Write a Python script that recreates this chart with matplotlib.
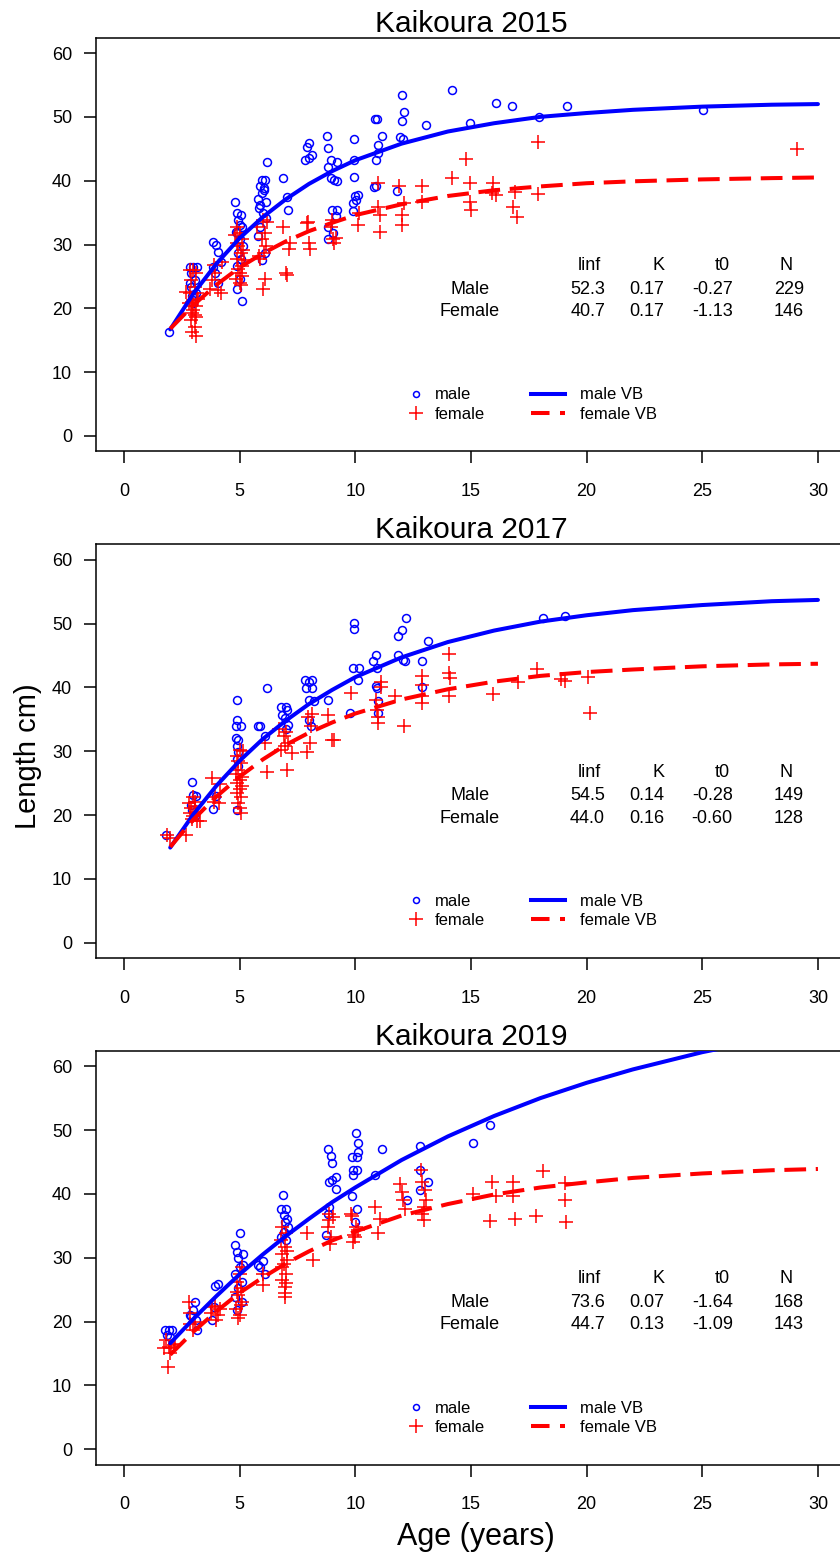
import numpy as np
import matplotlib
matplotlib.use("Agg")
import matplotlib.pyplot as plt
from matplotlib.lines import Line2D

plt.rcParams['font.family'] = ['Liberation Sans', 'DejaVu Sans']

# ---------------- data ----------------
titles = ["Kaikoura 2015", "Kaikoura 2017", "Kaikoura 2019"]

# (age, length) observations
male_2015 = [
    (1.96, 16.3),
    (2.85, 26.5), (3.0, 26.5), (3.15, 26.5), (2.9, 25.5), (3.05, 24.4), (2.9, 23.4), (3.1, 22.4),
    (2.95, 21.9), (2.85, 24.0), (3.0, 20.8),
    (3.85, 30.4), (4.0, 29.9), (4.07, 28.9), (3.85, 26.5), (3.95, 25.5), (4.05, 24.0), (4.2, 27.3),
    (4.8, 36.6), (4.9, 34.9), (5.05, 34.6), (4.95, 33.8), (5.1, 32.8), (4.9, 31.8), (5.0, 30.8),
    (5.15, 29.7), (4.95, 28.7), (5.05, 27.7), (4.9, 26.7), (5.0, 24.6), (4.9, 23.1), (5.1, 21.2),
    (5.0, 33.0), (4.85, 32.0),
    (6.17, 43.0), (5.95, 40.1), (6.1, 40.1), (5.9, 39.1), (6.05, 38.9), (5.95, 38.0), (5.8, 37.2),
    (6.15, 36.7), (5.85, 35.7), (6.0, 34.9), (6.15, 34.1), (5.9, 32.8), (5.8, 31.3), (6.1, 28.7),
    (5.95, 27.5), (6.05, 38.5), (5.9, 36.2),
    (6.86, 40.4), (7.1, 35.4), (7.04, 37.5),
    (7.83, 43.2), (8.0, 43.6), (8.13, 44.0), (8.0, 45.9), (7.9, 45.3),
    (8.76, 47.0), (8.8, 45.1), (8.95, 43.2), (8.8, 42.2), (9.1, 40.1), (8.95, 40.4), (9.2, 40.0),
    (9.0, 35.4), (9.2, 35.4), (9.15, 34.4), (8.8, 32.8), (9.05, 31.8), (8.8, 30.9), (9.2, 43.0),
    (9.96, 46.5), (9.93, 43.3), (9.93, 40.6), (10.0, 37.6), (10.05, 37.0), (9.9, 36.5), (10.1, 37.8),
    (9.9, 35.2),
    (10.85, 49.6), (10.95, 49.6), (11.14, 47.0), (10.98, 45.6), (10.98, 44.4), (10.9, 43.3),
    (10.8, 39.0), (10.9, 39.2),
    (12.0, 53.4), (12.12, 50.8), (12.0, 49.3), (11.93, 46.8), (12.05, 46.5), (11.79, 38.4),
    (13.06, 48.8), (14.17, 54.2), (14.96, 49.1), (16.07, 52.2), (16.76, 51.7), (17.96, 50.0),
    (19.14, 51.7), (25.02, 51.1),
]
female_2015 = [
    (2.85, 26.0), (3.0, 26.0), (3.1, 25.5), (2.9, 24.4), (3.05, 23.4), (2.85, 22.4), (3.15, 22.4),
    (3.0, 21.3), (2.9, 20.3), (3.1, 20.3), (3.0, 19.8), (2.95, 19.2), (3.1, 18.7), (2.9, 18.2),
    (3.05, 17.1), (2.95, 16.3), (3.1, 15.6), (2.7, 22.5), (3.2, 21.5), (2.95, 21.0), (3.05, 19.0),
    (2.8, 20.8),
    (3.9, 26.8), (3.8, 24.4), (4.05, 22.9), (3.7, 23.1), (4.2, 22.4), (3.95, 25.5), (4.25, 27.3),
    (4.8, 31.5), (4.9, 32.8), (5.0, 31.8), (5.1, 30.8), (4.95, 29.7), (5.05, 28.7), (4.9, 27.7),
    (5.1, 26.7), (5.0, 25.6), (4.85, 24.6), (5.05, 23.6), (5.15, 29.2), (4.95, 26.2), (5.0, 24.0),
    (5.1, 25.0), (4.9, 30.3), (5.2, 27.5),
    (5.75, 32.8), (6.0, 33.8), (6.1, 31.8), (5.95, 30.8), (6.15, 29.7), (6.05, 28.7), (5.9, 27.7),
    (6.1, 24.6), (6.0, 23.0), (6.2, 33.5), (5.85, 28.2),
    (6.89, 32.8), (7.18, 30.3), (7.15, 29.3), (7.0, 25.6), (7.05, 25.2),
    (7.9, 33.3), (8.0, 30.3), (8.04, 29.3), (7.95, 33.5),
    (9.0, 33.8), (8.95, 32.8), (9.1, 30.3), (9.05, 30.8), (9.15, 31.0),
    (10.1, 33.1), (10.15, 35.0),
    (11.0, 39.6), (11.07, 34.6), (11.05, 32.0), (11.0, 35.9),
    (11.9, 39.1), (12.0, 34.6), (12.0, 33.1), (12.1, 36.5),
    (12.9, 39.1), (12.9, 36.7),
    (14.17, 40.4), (14.8, 43.4), (14.96, 39.7), (14.96, 36.7), (15.0, 35.4),
    (15.95, 39.6), (15.9, 38.1), (16.1, 37.8),
    (16.8, 35.9), (17.0, 34.3), (16.9, 38.2), (17.9, 37.9), (17.9, 46.1),
    (29.08, 45.0),
]
male_2017 = [
    (1.80, 16.9),
    (2.93, 25.1), (3.0, 23.2), (3.1, 23.0), (2.9, 21.6), (2.95, 20.8), (3.07, 19.8),
    (3.86, 20.9), (3.98, 23.0),
    (4.87, 38.1), (4.87, 34.9), (4.85, 33.9), (5.05, 33.9), (4.85, 32.1), (4.95, 31.8), (4.9, 30.8),
    (4.92, 29.8), (4.87, 28.7), (4.95, 27.7), (4.87, 20.8),
    (6.17, 39.9), (5.8, 34.0), (5.9, 34.0), (6.1, 32.4),
    (6.8, 37.0), (7.0, 37.0), (7.05, 36.5), (6.85, 35.7), (6.95, 35.2), (7.1, 34.1), (7.0, 33.4),
    (7.83, 41.2), (8.0, 40.9), (8.15, 41.2), (7.85, 39.9), (8.15, 39.9), (8.0, 38.1), (8.2, 37.8),
    (8.0, 34.9), (8.1, 33.9),
    (8.83, 38.1), (9.77, 36.0),
    (9.94, 50.1), (9.94, 49.1), (9.9, 43.0), (10.15, 43.0), (10.1, 41.2),
    (10.88, 45.1), (10.75, 44.1), (10.95, 43.0), (10.88, 40.2), (10.95, 39.9), (11.0, 37.8),
    (10.98, 36.0),
    (11.85, 48.0), (12.0, 49.0), (12.2, 50.9), (11.85, 45.1), (12.07, 44.3), (12.15, 44.1),
    (13.16, 47.2), (12.9, 44.2), (12.9, 40.1),
    (18.13, 50.9), (19.07, 51.2),
]
female_2017 = [
    (1.85, 16.9), (2.0, 16.4), (2.7, 16.9),
    (2.8, 21.9), (3.0, 22.9), (2.85, 20.3), (3.05, 21.4), (2.95, 19.3), (3.15, 19.0), (3.3, 19.0),
    (3.0, 19.8), (3.05, 22.0), (2.9, 21.1), (3.1, 20.5),
    (3.8, 25.8), (4.15, 24.8), (3.95, 22.9), (3.9, 22.1), (4.1, 21.9),
    (5.0, 30.2), (4.9, 29.2), (5.05, 28.1), (4.95, 27.1), (5.1, 26.0), (4.9, 25.0), (5.0, 24.0),
    (5.05, 22.9), (4.95, 21.9), (5.0, 21.1), (5.05, 20.3), (5.15, 30.0), (4.85, 26.5), (5.1, 24.5),
    (4.9, 23.5), (5.0, 25.5), (4.95, 28.5),
    (6.17, 26.8), (7.03, 27.1), (6.1, 31.3),
    (6.7, 33.4), (6.9, 32.4), (7.1, 31.3), (6.8, 30.2), (7.25, 29.7), (7.0, 33.0), (6.95, 30.8),
    (7.9, 29.9), (8.05, 31.3), (7.95, 35.4), (8.15, 35.9), (8.1, 33.9),
    (8.8, 35.7), (9.0, 31.8), (9.1, 31.8), (9.8, 39.1),
    (10.9, 38.1), (11.1, 40.9), (11.1, 40.0), (10.95, 36.5), (11.0, 35.4), (11.0, 34.4),
    (11.7, 38.6), (12.1, 33.9),
    (12.87, 41.8), (12.87, 40.3), (12.9, 38.6), (12.87, 37.6),
    (14.06, 45.2), (14.05, 42.3), (14.1, 41.5), (14.06, 38.6),
    (15.97, 38.9), (17.05, 40.9), (17.84, 42.9), (18.9, 41.3), (19.07, 41.0), (20.07, 41.7),
    (20.15, 36.0),
]
male_2019 = [
    (1.78, 18.6), (1.95, 18.6), (2.06, 18.6), (1.85, 17.9), (2.0, 17.6),
    (3.07, 23.1), (2.85, 21.0), (3.0, 21.8), (3.1, 20.2), (3.15, 18.6), (2.9, 20.8),
    (3.8, 20.2), (4.06, 25.9), (3.95, 25.6), (3.9, 22.2),
    (5.02, 33.8), (4.8, 32.0), (4.9, 30.9), (5.15, 30.6), (4.95, 29.9), (5.0, 28.6), (5.15, 28.8),
    (4.8, 27.5), (5.1, 26.2), (4.95, 25.2), (4.8, 23.9), (5.1, 23.1), (4.9, 21.8),
    (5.8, 28.8), (6.0, 29.5), (6.1, 27.5), (5.9, 28.6),
    (6.86, 39.8), (6.8, 37.7), (7.0, 37.7), (6.9, 36.7), (7.05, 36.1), (6.95, 35.6), (7.1, 34.8),
    (6.9, 34.0), (6.8, 33.3), (7.0, 32.7),
    (8.8, 47.0), (8.95, 45.9), (9.0, 44.8), (9.15, 42.7), (8.85, 41.9), (9.0, 42.2), (9.15, 40.7),
    (8.85, 38.0), (8.8, 36.9), (8.75, 33.5),
    (10.03, 49.6), (10.13, 48.0), (10.13, 46.6), (9.85, 45.8), (10.06, 45.8), (9.9, 43.7),
    (10.06, 43.7), (9.9, 42.9), (9.85, 39.7), (10.06, 37.7), (10.0, 35.6),
    (11.14, 47.0), (10.85, 42.9), (12.23, 39.1),
    (12.8, 47.5), (12.8, 43.7), (13.16, 41.9), (12.8, 40.6),
    (15.1, 47.9), (15.82, 50.8),
]
female_2019 = [
    (1.8, 17.1), (1.95, 16.0), (2.05, 15.8), (2.15, 16.3), (2.0, 15.0), (1.9, 12.9), (1.75, 15.8),
    (2.2, 16.5),
    (2.8, 23.1), (2.85, 21.3), (3.07, 19.9), (3.0, 18.6), (2.85, 19.6),
    (3.75, 21.3), (3.95, 22.5), (4.05, 21.0), (4.0, 20.2), (4.15, 21.9), (3.8, 22.2),
    (5.0, 27.5), (4.9, 26.2), (5.05, 25.2), (4.95, 24.1), (5.1, 23.1), (4.85, 22.0), (5.0, 21.0),
    (4.95, 20.5), (5.1, 28.5), (4.9, 24.6), (5.05, 22.6),
    (6.02, 25.7), (6.0, 27.5),
    (6.85, 34.8), (7.0, 33.8), (6.8, 32.7), (6.95, 31.7), (6.85, 30.6), (7.05, 29.6), (6.85, 28.6),
    (7.0, 27.5), (6.85, 26.5), (6.95, 25.4), (6.95, 23.9), (7.05, 31.0), (6.9, 29.0), (7.0, 26.0),
    (6.95, 24.5),
    (7.9, 33.8), (8.18, 29.6),
    (8.85, 36.9), (8.8, 34.8), (8.95, 33.3), (8.9, 32.2), (9.05, 36.4), (8.85, 35.9),
    (9.85, 36.6), (10.05, 34.8), (9.95, 33.5), (9.9, 32.4), (10.1, 34.3), (9.8, 36.9), (10.0, 33.2),
    (10.85, 38.0), (11.06, 36.1), (11.0, 33.8),
    (11.95, 41.6), (12.0, 40.3), (12.05, 39.0), (12.15, 37.7),
    (12.85, 43.7), (12.9, 41.9), (13.0, 40.6), (13.05, 39.0), (12.95, 38.0), (12.9, 36.9),
    (12.95, 35.9),
    (15.1, 40.0), (15.82, 35.7), (15.9, 41.9), (16.1, 39.7), (16.83, 41.9), (16.83, 39.7),
    (16.9, 36.0), (17.8, 36.6), (18.13, 43.6), (19.07, 41.7), (19.07, 39.1), (19.1, 35.6),
]

# fitted von Bertalanffy curves, read at these ages
vb_ages = [2, 3, 4, 5, 6, 7, 8, 9, 10, 12, 14, 16, 18, 20, 22, 25, 28, 30]
vb_male_2015 = [16.7, 22.3, 27.0, 31.0, 34.3, 37.1, 39.5, 41.5, 43.2, 45.8, 47.7, 49.0, 50.0,
                50.6, 51.1, 51.6, 51.9, 52.0]
vb_female_2015 = [16.8, 20.5, 23.7, 26.4, 28.6, 30.5, 32.1, 33.4, 34.6, 36.3, 37.6, 38.5, 39.1,
                  39.6, 39.9, 40.2, 40.4, 40.5]
vb_male_2017 = [14.9, 20.1, 24.6, 28.5, 31.9, 34.8, 37.4, 39.6, 41.6, 44.7, 47.1, 48.9, 50.3,
                51.3, 52.1, 52.9, 53.5, 53.7]
vb_female_2017 = [15.0, 19.3, 22.9, 26.0, 28.7, 31.0, 32.9, 34.5, 35.9, 38.1, 39.7, 40.9, 41.8,
                  42.4, 42.8, 43.3, 43.6, 43.7]
vb_male_2019 = [16.6, 20.4, 24.0, 27.4, 30.5, 33.4, 36.1, 38.7, 41.0, 45.3, 49.0, 52.2, 55.0,
                57.4, 59.5, 62.2, 64.4, 65.6]
vb_female_2019 = [14.8, 18.4, 21.6, 24.5, 26.9, 29.1, 31.0, 32.7, 34.1, 36.6, 38.4, 39.9, 41.0,
                  41.8, 42.5, 43.2, 43.7, 43.9]

table_cols = ["linf", "K", "t0", "N"]
params_male = [["52.3", "0.17", "-0.27", "229"],
               ["54.5", "0.14", "-0.28", "149"],
               ["73.6", "0.07", "-1.64", "168"]]
params_female = [["40.7", "0.17", "-1.13", "146"],
                 ["44.0", "0.16", "-0.60", "128"],
                 ["44.7", "0.13", "-1.09", "143"]]

males = [male_2015, male_2017, male_2019]
females = [female_2015, female_2017, female_2019]
vb_males = [vb_male_2015, vb_male_2017, vb_male_2019]
vb_females = [vb_female_2015, vb_female_2017, vb_female_2019]

x_ticks = [0, 5, 10, 15, 20, 25, 30]
y_ticks = [0, 10, 20, 30, 40, 50, 60]

# ---------------- layout ----------------
W, H = 840, 1553
fig = plt.figure(figsize=(W / 100, H / 100), dpi=100)

box_left = 96.2
box_w = 749.5
box_h = 413.6
box_bottoms = [451.3, 958.0, 1464.5]

BLUE = '#0000FF'
RED = '#FF0000'

for i in range(3):
    ax = fig.add_axes([box_left / W, 1 - box_bottoms[i] / H, box_w / W, box_h / H])
    ax.set_xlim(-1.2, 31.2)
    ax.set_ylim(-2.4, 62.4)

    m = np.array(males[i])
    f = np.array(females[i])
    ax.plot(m[:, 0], m[:, 1], ls='none', marker='o', ms=5.7, mfc='none', mec=BLUE, mew=1.1,
            zorder=2)
    ax.plot(f[:, 0], f[:, 1], ls='none', marker='+', ms=9.4, mec=RED, mew=1.1, zorder=3)
    ax.plot(vb_ages, vb_males[i], color=BLUE, lw=2.9, solid_capstyle='round', zorder=4)
    ax.plot(vb_ages, vb_females[i], color=RED, lw=2.9, ls=(0, (5.4, 2.4)), zorder=5)

    for s in ax.spines.values():
        s.set_linewidth(1.1)
        s.set_color('black')
    ax.set_xticks(x_ticks)
    ax.set_yticks(y_ticks)
    ax.tick_params(axis='x', direction='out', length=8.6, width=1.1, labelsize=13,
                   pad=14.3)
    ax.tick_params(axis='y', direction='out', length=8.4, width=1.1, labelsize=13,
                   pad=9.0)
    ax.set_title(titles[i], fontsize=21.5, pad=3.6)

    # parameter table
    hdr_x = [20.61, 23.35, 26.2, 28.92]
    val_x = [20.8, 23.35, 26.32, 29.4]
    for c, xx in zip(table_cols, hdr_x):
        ax.text(xx, 26.0, c, ha='right', va='baseline', fontsize=13)
    ax.text(14.96, 22.3, "Male", ha='center', va='baseline', fontsize=13)
    ax.text(14.96, 18.8, "Female", ha='center', va='baseline', fontsize=13)
    for v, xx in zip(params_male[i], val_x):
        ax.text(xx, 22.3, v, ha='right', va='baseline', fontsize=13)
    for v, xx in zip(params_female[i], val_x):
        ax.text(xx, 18.8, v, ha='right', va='baseline', fontsize=13)

    # legends
    h1 = [Line2D([], [], ls='none', marker='o', ms=4.3, mfc='none', mec=BLUE, mew=1.1),
          Line2D([], [], ls='none', marker='+', ms=9.4, mec=RED, mew=1.1)]
    leg1 = ax.legend(h1, ["male", "female"], loc='center left',
                     bbox_to_anchor=(12.37, 4.93), bbox_transform=ax.transData,
                     frameon=False, fontsize=12, handlelength=0.7, handletextpad=0.8,
                     labelspacing=0.25, borderpad=0, borderaxespad=0)
    ax.add_artist(leg1)
    h2 = [Line2D([], [], color=BLUE, lw=2.9),
          Line2D([], [], color=RED, lw=2.9, ls=(0, (4.6, 2.6)))]
    ax.legend(h2, ["male VB", "female VB"], loc='center left',
              bbox_to_anchor=(17.6, 4.93), bbox_transform=ax.transData,
              frameon=False, fontsize=12, handlelength=2.05, handletextpad=0.9,
              labelspacing=0.25, borderpad=0, borderaxespad=0)

fig.text(28 / W, 1 - 756 / H, "Length cm)", rotation=90, ha='center', va='center', fontsize=21)
fig.text(476 / W, 1 - 1545.5 / H, "Age (years)", ha='center', va='baseline', fontsize=22)

fig.savefig("out.png", dpi=100)
